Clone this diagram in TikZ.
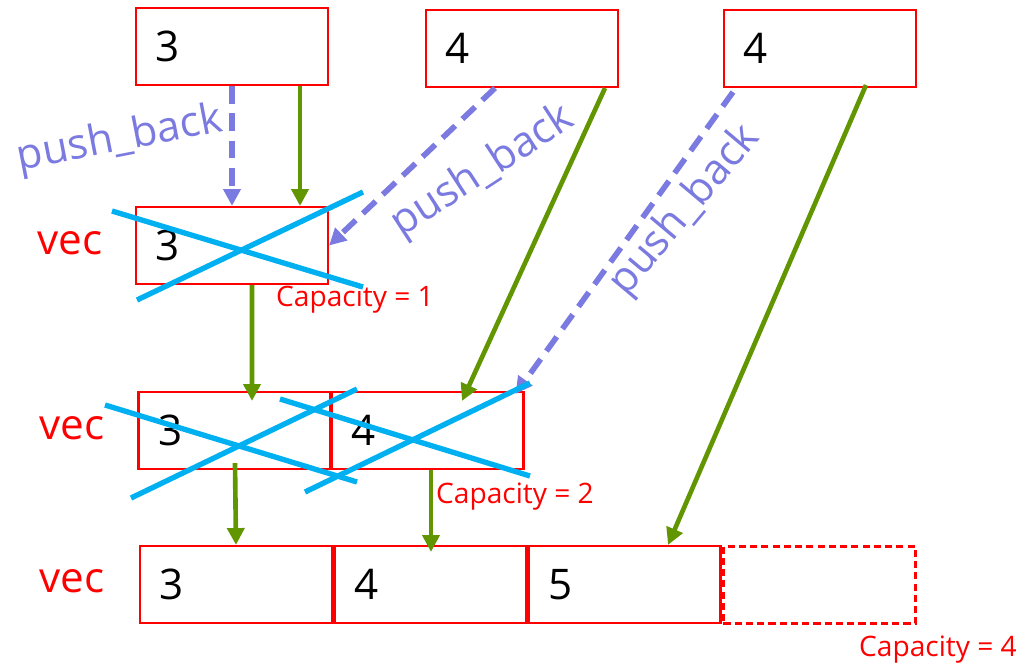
\documentclass[tikz,border=0pt]{standalone}
\usepackage{fontspec}
\setmainfont{Open Sans}
\usetikzlibrary{arrows.meta,calc}
\definecolor{boxred}{RGB}{255,0,0}
\definecolor{pushblue}{RGB}{122,122,224}
\definecolor{flowgreen}{RGB}{98,150,0}
\definecolor{crosscyan}{RGB}{0,176,240}

\begin{document}
\begin{tikzpicture}[x=0.025cm,y=-0.025cm,
  cell/.style={draw=boxred,line width=1.5pt,minimum width=4.8cm,minimum height=1.925cm,
    inner xsep=0.5cm,inner ysep=0pt,text width=3.8cm,align=left,
    font=\fontsize{30}{30}\selectfont},
  sparecell/.style={cell,dashed,dash pattern=on 5pt off 3pt},
  pushline/.style={draw=pushblue,line width=4pt,dash pattern=on 12.5pt off 7pt,
    -{Triangle[length=12pt,width=12pt]}},
  growline/.style={draw=flowgreen,line width=3.3pt,-{Triangle[length=12pt,width=12pt]}},
  strike/.style={draw=crosscyan,line width=3.8pt},
  veclabel/.style={text=boxred,font=\fontsize{30}{30}\selectfont},
  caplabel/.style={text=boxred,font=\fontsize{20}{20}\selectfont},
  pushlabel/.style={text=pushblue,font=\fontsize{30}{30}\selectfont}]

\useasboundingbox (0,0) rectangle (1029,666);

% elements to be inserted
\node[cell] (A) at (232,46.5) {3};
\node[cell] (B) at (522,48.5) {4};
\node[cell] (C) at (820,48.5) {4};

% vector with capacity 1
\node[cell] (v1) at (232,245.5) {3};
\node[veclabel] (vl1) at (70,243) {vec};
\node[caplabel] (c1) at (355,300) {Capacity = 1};

% vector with capacity 2
\node[cell] (v2a) at (234.5,430.5) {3};
\node[cell] (v2b) at (427.5,430.5) {4};
\node[veclabel] (vl2) at (72,428) {vec};
\node[caplabel] (c2) at (515,497) {Capacity = 2};

% vector with capacity 4
\node[cell] (v3a) at (236,584.5) {3};
\node[cell] (v3b) at (430.5,584.5) {4};
\node[cell] (v3c) at (624.5,584.5) {5};
\node[sparecell] (v3d) at (819.5,585) {};
\node[veclabel] (vl3) at (72,581) {vec};
\node[caplabel] (c3) at (938,650) {Capacity = 4};

% push_back calls
\draw[pushline] (A.south) -- (v1.north);
\draw[pushline] ($(B.south)+(-27,0)$) -- (v1.east);
\draw[pushline] ($(C.south)+(-87,4)$) -- ($(v2b.north east)+(-9,3)$);
\node[pushlabel,rotate=11] (p1) at (120,140) {push\_back};
\node[pushlabel,rotate=33] (p2) at (483,172) {push\_back};
\node[pushlabel,rotate=50] (p3) at (685,211) {push\_back};

% element copies
\draw[growline] ($(A.south)+(68,0)$) -- ($(v1.north)+(68,0)$);
\draw[growline] ($(B.south)+(83,0)$) -- ($(v2b.north)+(34.5,10)$);
\draw[growline] ($(C.south)+(46,-3)$) -- ($(v3c.north)+(43.5,0)$);
\draw[growline] ($(v1.south)+(20,0)$) -- ($(v2a.north)+(17.5,10)$);
\draw[growline] ($(v2a.south)+(0.5,-7)$) -- (v3a.north);
\draw[growline] ($(v2b.south)+(3.5,0)$) -- ($(v3b.north)+(0.5,7)$);

% released storage
\draw[strike] (112,211) -- (363,287);
\draw[strike] (137,300) -- (363,192);
\draw[strike] (105,405) -- (357,482);
\draw[strike] (131,498) -- (357,389);
\draw[strike] (280,399) -- (530,476);
\draw[strike] (305,492) -- (530,383);
\end{tikzpicture}
\end{document}
